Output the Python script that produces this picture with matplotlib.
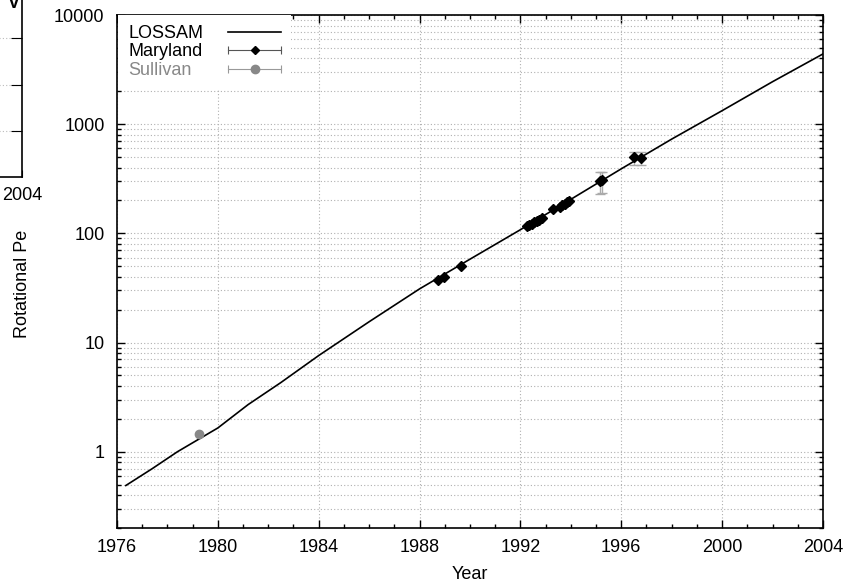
import numpy as np
import matplotlib
matplotlib.use("Agg")
import matplotlib.pyplot as plt
from matplotlib.lines import Line2D
from matplotlib.legend_handler import HandlerLine2D
from matplotlib.ticker import MultipleLocator, NullFormatter, FuncFormatter, LogLocator

plt.rcParams['font.family'] = ['Liberation Sans', 'DejaVu Sans']
plt.rcParams['font.size'] = 13

# LOSSAM model curve
lossam_year = [1976.35, 1977.4, 1978.4, 1980.0, 1981.2, 1982.5, 1984.0, 1986.0, 1988.0,
               1990.0, 1992.0, 1994.0, 1996.0, 1998.0, 2000.0, 2002.0, 2004.0]
lossam_period = [0.49, 0.70, 1.0, 1.65, 2.7, 4.3, 7.6, 15.5, 31,
                 58, 108, 205, 390, 730, 1330, 2450, 4400]

# Maryland measurements
md_year = [1988.72, 1988.98, 1989.65, 1992.25, 1992.35, 1992.45, 1992.55, 1992.65, 1992.75,
           1992.85, 1993.3, 1993.55, 1993.65, 1993.75, 1993.85, 1993.93, 1995.15, 1995.22,
           1996.5, 1996.8]
md_period = [37.5, 39.5, 50.5, 117, 120, 123, 126, 130, 133,
             137, 166, 175, 181, 187, 193, 198, 300, 308,
             497, 494]
md_err_lo = [0, 0, 0, 0, 0, 0, 0, 0, 0, 0, 0, 0, 0, 0, 0, 0, 72, 75, 73, 70]
md_err_hi = [0, 0, 0, 0, 0, 0, 0, 0, 0, 0, 0, 0, 0, 0, 0, 0, 62, 60, 64, 66]

# Sullivan measurement
su_year = [1979.27]
su_period = [1.45]

year_ticks = list(range(1976, 2005, 4))

fig = plt.figure(figsize=(8.56, 5.84), dpi=100)

# piece of the neighbouring panel that sticks into the left edge
frag = fig.add_axes([-400 / 856, 1 - 177 / 584, 422 / 856, 200 / 584])
frag.set_xlim(1976, 2004)
frag.set_ylim(0, 200)
frag.set_xticks([2004])
frag.set_yticks([46, 92, 139, 185])
frag.yaxis.tick_right()
frag.tick_params(axis='y', direction='in', length=8, labelright=False)
frag.tick_params(axis='x', direction='in', length=5, pad=7)
frag.grid(True, axis='y', color='#bbbbbb', linestyle=(0, (1, 2)), linewidth=0.8)
for s in frag.spines.values():
    s.set_linewidth(1.2)
fig.text(14 / 856, 1 - 8.5 / 584, 'V', ha='center', va='baseline', fontweight='bold')

ax = fig.add_axes([117 / 856, 1 - 528 / 584, 706 / 856, 513 / 584])
ax.set_yscale('log')

ax.plot(lossam_year, lossam_period, color='k', lw=1.2, zorder=3)

md_year = np.array(md_year)
md_period = np.array(md_period)
md_err = np.array([md_err_lo, md_err_hi])
has_err = md_err.sum(axis=0) > 0
ax.errorbar(md_year[has_err], md_period[has_err], yerr=md_err[:, has_err], fmt='none',
            ecolor='#aaaaaa', elinewidth=1, capsize=3.6, capthick=1, zorder=2)
ax.plot(md_year, md_period, ls='none', marker='D', color='k', ms=4.8, zorder=4)
ax.plot(su_year, su_period, ls='none', marker='o', color='#888888', ms=6, zorder=4)

ax.set_xlim(1976, 2004)
ax.set_ylim(0.2, 10000)
ax.set_xticks(year_ticks)
ax.xaxis.set_minor_locator(MultipleLocator(1))
ax.yaxis.set_major_locator(LogLocator(base=10))
ax.yaxis.set_minor_locator(LogLocator(base=10, subs=np.arange(2, 10)))
ax.yaxis.set_major_formatter(FuncFormatter(lambda v, p: f'{v:g}'))
ax.yaxis.set_minor_formatter(NullFormatter())
ax.tick_params(which='both', direction='in', top=True, right=True)
ax.tick_params(which='major', length=6, width=1)
ax.tick_params(which='minor', length=3, width=1)
ax.tick_params(axis='x', pad=8)
ax.tick_params(axis='y', pad=9)
for s in ax.spines.values():
    s.set_linewidth(1.2)

grid_style = dict(color='#b0b0b0', linestyle=(0, (1, 2)), linewidth=0.8)
ax.grid(True, which='major', axis='x', **grid_style)
ax.grid(True, which='both', axis='y', **grid_style)
ax.set_axisbelow(True)

ax.set_xlabel('Year', labelpad=7)
fig.text(22.5 / 856, 1 - 284 / 584, 'Rotational Pe', rotation=90, ha='center', va='center')

# legend: labels first, handles drawn like gnuplot error bars
h_lossam = Line2D([], [], color='k', lw=1.2)
md_bar = Line2D([], [], color='#555555', lw=0.8, marker='|', ms=6, mew=0.8)
md_pt = Line2D([], [], ls='none', marker='D', color='k', ms=4.5)
su_bar = Line2D([], [], color='#999999', lw=0.8, marker='|', ms=6, mew=0.8)
su_pt = Line2D([], [], ls='none', marker='o', color='#888888', ms=6)

leg = ax.legend([h_lossam, (md_bar, md_pt), (su_bar, su_pt)],
                ['LOSSAM', 'Maryland', 'Sullivan'],
                handler_map={md_bar: HandlerLine2D(numpoints=2, marker_pad=0),
                             su_bar: HandlerLine2D(numpoints=2, marker_pad=0)},
                loc='upper left', bbox_to_anchor=(0.002, 1), borderaxespad=0,
                borderpad=0.55, markerfirst=False, handlelength=2.93,
                handletextpad=1.38, labelspacing=0.08, frameon=True,
                fancybox=False, edgecolor='none', facecolor='white', framealpha=1)
leg.set_zorder(5)
leg.get_texts()[2].set_color('#888888')

# keep labels left aligned and handles in one column
fig.canvas.draw()
r = fig.canvas.get_renderer()
widths = [t.get_window_extent(r).width for t in leg.get_texts()]
col = leg._legend_handle_box.get_children()[0]
col.align = 'left'
for row, w in zip(col.get_children(), widths):
    row.sep += (max(widths) - w) * 72 / fig.dpi

fig.savefig('out.png', dpi=100)
